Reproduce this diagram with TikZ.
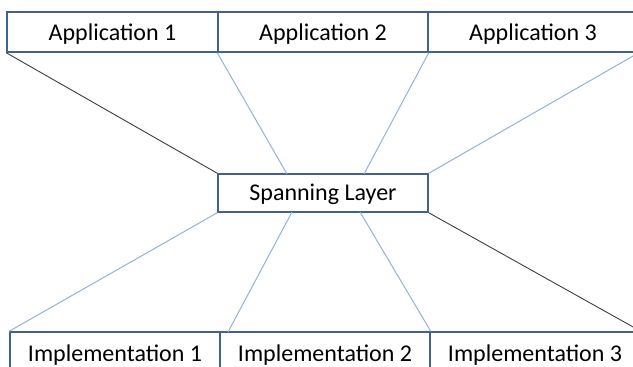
\documentclass[tikz,border=0pt]{standalone}
\usepackage{fontspec}
\setmainfont{Carlito}
\definecolor{boxline}{HTML}{41638A}
\definecolor{linkblue}{HTML}{95B3D7}
\definecolor{linkdark}{HTML}{404040}
\begin{document}
\begin{tikzpicture}[x=1pt,y=-1pt,
  box/.style={draw=boxline, line width=1.5pt, fill=white, minimum width=210pt, minimum height=40pt, inner sep=0pt, font=\fontsize{24}{28}\selectfont, text depth=6pt, text height=23.4pt},
  span/.style={box, minimum height=38pt, text height=21.4pt},
  implbox/.style={box, text height=25.4pt},
  bluelink/.style={draw=linkblue, line width=1pt},
  darklink/.style={draw=linkdark, line width=0.9pt}]
\useasboundingbox (0,0) rectangle (633,367);
\fill[white] (0,0) rectangle (633,367);
\coordinate (st1) at (287,174);
\coordinate (st2) at (364,174);
\coordinate (sb1) at (292,212);
\coordinate (sb2) at (360,212);
\coordinate (ib1) at (228,332);
\node[span] (sp) at (323,193) {Spanning Layer};
\node[box, minimum width=211pt] (a1) at (112.5,32) {Application 1};
\node[box] (a2) at (323,32) {Application 2};
\node[box] (a3) at (533,32) {Application 3};
\node[implbox] (i1) at (115,352) {Implementation 1};
\node[implbox] (i2) at (325,352) {Implementation 2};
\node[implbox] (i3) at (535,352) {Implementation 3};
\draw[darklink] (a1.south west) -- (sp.north west);
\draw[bluelink] (a2.south west) -- (st1);
\draw[bluelink] (a2.south east) -- (st2);
\draw[bluelink] (a3.south east) -- (sp.north east);
\draw[bluelink] (sp.south west) -- (i1.north west);
\draw[bluelink] (sb1) -- (ib1);
\draw[bluelink] (sb2) -- (i2.north east);
\draw[darklink] (sp.south east) -- (i3.north east);
\end{tikzpicture}
\end{document}
